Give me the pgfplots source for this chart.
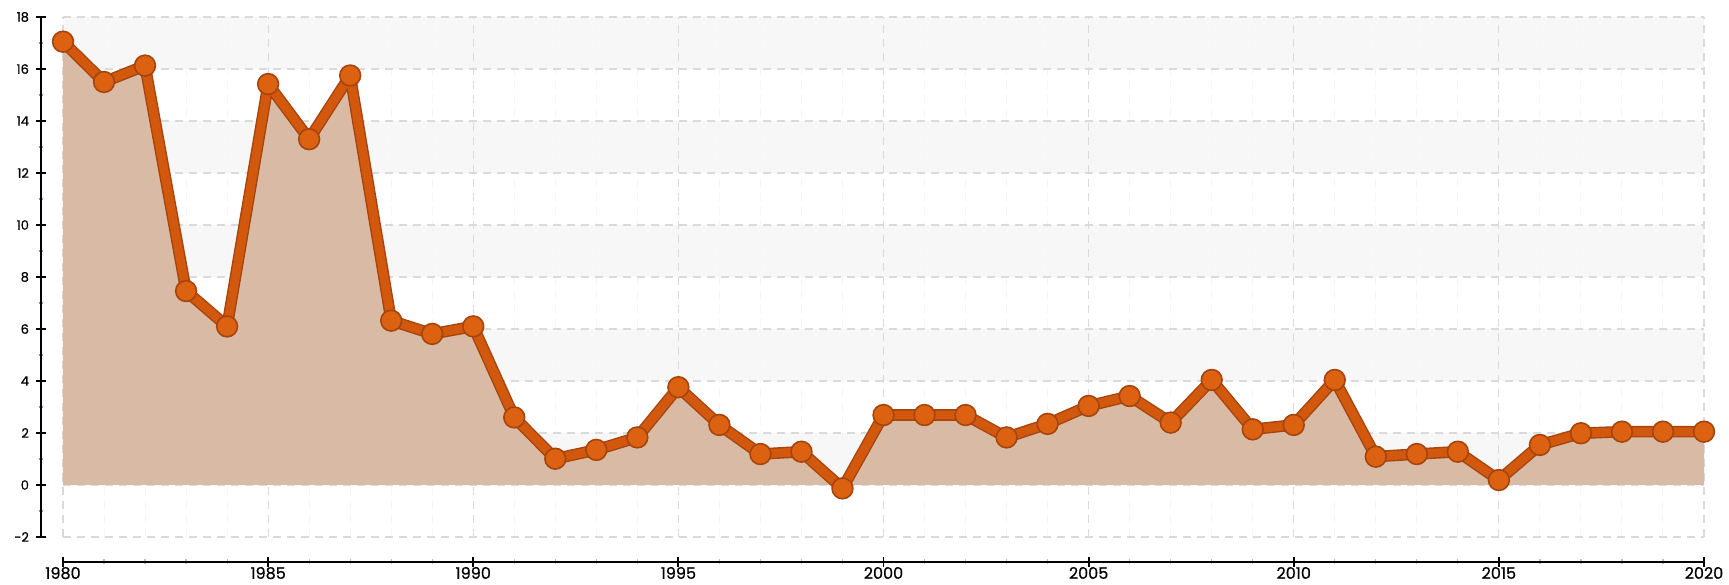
\documentclass[border=0pt]{standalone}
\usepackage{pgfplots}
\pgfplotsset{compat=1.18}
\usepackage{pgfplotstable}
\usepgfplotslibrary{fillbetween}
\usepackage{fontspec}
\setmainfont{Poppins}
\newfontfamily\tickfont{Poppins}[FakeBold=0.6]
\definecolor{linec}{RGB}{210,88,14}
\definecolor{lined}{RGB}{165,68,12}
\definecolor{markc}{RGB}{220,98,18}
\definecolor{areac}{RGB}{217,186,164}
\definecolor{bandc}{RGB}{247,247,247}
\definecolor{gridc}{RGB}{218,218,218}
\definecolor{minc}{RGB}{208,120,120}

\pgfplotstableread{
year value
1980 17.05
1981 15.50
1982 16.13
1983 7.46
1984 6.10
1985 15.42
1986 13.30
1987 15.75
1988 6.32
1989 5.81
1990 6.10
1991 2.60
1992 1.01
1993 1.35
1994 1.83
1995 3.76
1996 2.31
1997 1.19
1998 1.28
1999 -0.13
2000 2.69
2001 2.69
2002 2.69
2003 1.83
2004 2.35
2005 3.04
2006 3.42
2007 2.40
2008 4.04
2009 2.14
2010 2.31
2011 4.04
2012 1.09
2013 1.19
2014 1.28
2015 0.19
2016 1.54
2017 1.99
2018 2.05
2019 2.05
2020 2.05
}\datatable

\begin{document}
\begin{tikzpicture}
\begin{axis}[
  name=ax,
  set layers,
  width=820.5pt, height=260pt, scale only axis,
  xmin=1980, xmax=2020, ymin=-2, ymax=18,
  xtick={1980,1985,...,2020},
  ytick={-2,0,...,18},
  minor x tick num=4,
  minor y tick num=1,
  axis lines=left,
  axis line style={-, black, line width=1pt},
  axis x line shift=12.5pt,
  axis y line shift=11pt,
  tick align=center,
  major tick length=5pt,
  minor tick length=2.5pt,
  major tick style={black, line width=0.9pt},
  minor y tick style={minc, line width=0.8pt},
  minor x tick style={gray!50, line width=0.6pt},
  xmajorgrids=true, ymajorgrids=true, xminorgrids=true,
  major grid style={gridc, line width=0.6pt, dash pattern=on 4pt off 3pt},
  minor x grid style={gray!8, line width=0.5pt, dash pattern=on 4pt off 3pt},
  /pgf/number format/1000 sep={},
  /pgf/number format/assume math mode=true,
  xticklabel style={font=\tickfont\fontsize{8}{8}\selectfont, yshift=3.5pt},
  yticklabel style={font=\tickfont\fontsize{6.5}{7}\selectfont},
  clip=false,
]
\pgfplotsinvokeforeach{16,12,8,4,0}{
  \addplot[on layer=axis background, fill=bandc, draw=none]
    coordinates {(1980,#1) (2020,#1) (2020,#1+2) (1980,#1+2)} -- cycle;
}
\addplot[draw=none, name path=zero] coordinates {(1980,0) (2020,0)};
\addplot[draw=none, name path=data] table[x=year, y=value] {\datatable};
\addplot[areac, draw=none] fill between[of=data and zero];
\addplot[lined, line width=5.8pt, line join=round] table[x=year, y=value] {\datatable};
\addplot[linec, line width=4.4pt, line join=round, mark=*, mark size=5.2pt,
  mark options={fill=markc, draw=lined, line width=0.8pt}] table[x=year, y=value] {\datatable};
\end{axis}
\pgfresetboundingbox
\path[use as bounding box] ([shift={(-31.5pt,-24pt)}]ax.south west) rectangle ([shift={(12.5pt,8.5pt)}]ax.north east);
\end{tikzpicture}
\end{document}
